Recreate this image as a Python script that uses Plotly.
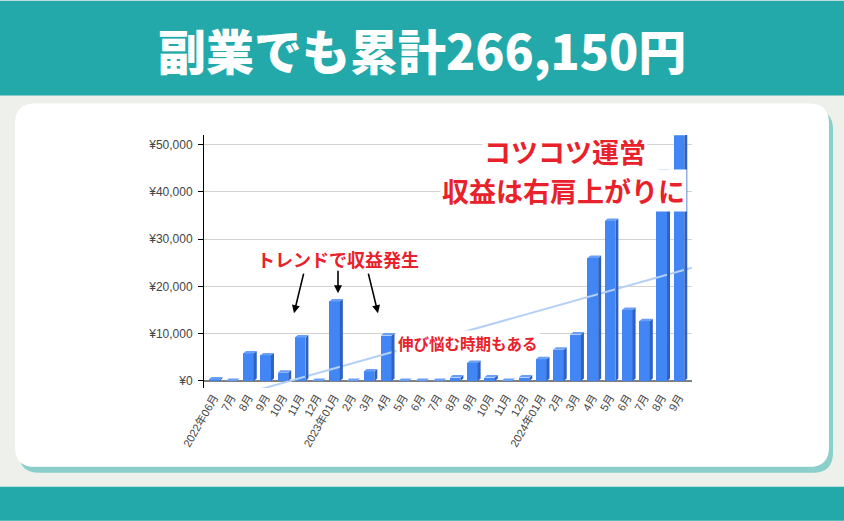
import numpy as np
import plotly.graph_objects as go

# ---- data ----
months = ["2022年06月", "7月", "8月", "9月", "10月", "11月", "12月",
          "2023年01月", "2月", "3月", "4月", "5月", "6月", "7月", "8月", "9月", "10月", "11月", "12月",
          "2024年01月", "2月", "3月", "4月", "5月", "6月", "7月", "8月", "9月"]
revenue = [300, 0, 5800, 5400, 1700, 9200, 0,
           16800, 0, 2000, 9600, 0, 0, 0, 700, 3800, 700, 0, 700,
           4600, 6600, 9800, 26000, 33800, 15000, 12600, 44200, 51800]
y_tickvals = [0, 10000, 20000, 30000, 40000, 50000]
y_ticktext = ["¥0", "¥10,000", "¥20,000", "¥30,000", "¥40,000", "¥50,000"]
title_text = "副業でも累計266,150円"
note_trend = "トレンドで収益発生"
note_slow = "伸び悩む時期もある"
note_up1 = "コツコツ運営"
note_up2 = "収益は右肩上がりに"

# ---- geometry ----
W, H = 844, 521
L, R, T, B = 204, 692, 134.5, 388
PW, PH = R - L, B - T
XR = [-0.58, 27.76]
YR = [-1500, 52000]

def px(x):
    return (x - L) / PW

def py(y):
    return (B - y) / PH

idx = np.arange(len(revenue))
vals = np.array(revenue, dtype=float)

bw = 0.62
dx = 3.0 / (PW / (XR[1] - XR[0]))          # depth in x units (3px)
dy = 2.5 * (YR[1] - YR[0]) / PH            # depth in y units (2.5px)

side_x, side_y, top_x, top_y = [], [], [], []
for i, v in zip(idx, vals):
    xl, xr = i - bw / 2, i + bw / 2
    side_x += [xr, xr + dx, xr + dx, xr, xr, None]
    side_y += [0, dy, v + dy, v, 0, None]
    top_x += [xl, xr, xr + dx, xl + dx, xl, None]
    top_y += [v, v, v + dy, v + dy, v, None]

coef = np.polyfit(idx, vals, 1)
tx = np.array(XR)
ty = np.polyval(coef, tx)

fig = go.Figure()
fig.add_trace(go.Scatter(x=tx, y=ty, mode="lines", line=dict(color="#B5D0F7", width=2),
                         hoverinfo="skip", showlegend=False))
fig.add_trace(go.Scatter(x=side_x, y=side_y, mode="lines", fill="toself", fillcolor="#2D62C2",
                         line=dict(width=0, color="#2D62C2"), hoverinfo="skip", showlegend=False))
fig.add_trace(go.Scatter(x=top_x, y=top_y, mode="lines", fill="toself", fillcolor="#6A9FF7",
                         line=dict(width=0, color="#6A9FF7"), hoverinfo="skip", showlegend=False))
fig.add_trace(go.Bar(x=idx, y=vals, width=bw, marker=dict(color="#4285F4", line=dict(width=0)),
                     showlegend=False))

# ---- background shapes (pixel -> paper) ----
def rrect(x0, y0, x1, y1, r):
    rx, ry = r / PW, r / PH
    a0, a1 = px(x0), px(x1)
    b0, b1 = py(y1), py(y0)  # bottom, top in paper
    return (f"M {a0+rx},{b1} L {a1-rx},{b1} Q {a1},{b1} {a1},{b1-ry} "
            f"L {a1},{b0+ry} Q {a1},{b0} {a1-rx},{b0} L {a0+rx},{b0} "
            f"Q {a0},{b0} {a0},{b0+ry} L {a0},{b1-ry} Q {a0},{b1} {a0+rx},{b1} Z")

teal = "#24A9AA"
shapes = [
    dict(type="rect", xref="paper", yref="paper", x0=px(0), x1=px(W), y0=py(95), y1=py(0),
         fillcolor=teal, line=dict(width=0), layer="below"),
    dict(type="rect", xref="paper", yref="paper", x0=px(0), x1=px(W), y0=py(H), y1=py(487),
         fillcolor=teal, line=dict(width=0), layer="below"),
    dict(type="path", xref="paper", yref="paper", path=rrect(19, 109, 833, 473, 20),
         fillcolor="#8ACFCA", line=dict(width=0), layer="below"),
    dict(type="path", xref="paper", yref="paper", path=rrect(15, 103, 829, 467, 20),
         fillcolor="#FFFFFF", line=dict(width=0), layer="below"),
]

red = "#E8212B"
jp = "Noto Sans CJK JP"
ann = [
    dict(text=title_text, xref="paper", yref="paper", x=px(422), y=py(48), showarrow=False,
         font=dict(family=jp, size=48, color="white", weight=900), xanchor="center", yanchor="middle"),
    dict(text=note_trend, xref="paper", yref="paper", x=px(338), y=py(259), showarrow=False,
         font=dict(family=jp, size=18, color=red, weight=700), xanchor="center", yanchor="middle"),
    dict(text=note_slow, xref="paper", yref="paper", x=px(468), y=py(343), showarrow=False,
         font=dict(family=jp, size=15.5, color=red, weight=700), xanchor="center", yanchor="middle",
         bgcolor="white"),
    dict(text=note_up1, xref="paper", yref="paper", x=px(565), y=py(151), showarrow=False,
         font=dict(family=jp, size=27, color=red, weight=700), xanchor="center", yanchor="middle",
         bgcolor="white"),
    dict(text=note_up2, xref="paper", yref="paper", x=px(563), y=py(190), showarrow=False,
         font=dict(family=jp, size=27, color=red, weight=700), xanchor="center", yanchor="middle",
         bgcolor="white"),
]
for (hx, hy, ax, ay) in [(294, 313, 10, -41), (338, 293, 0, -24), (378, 313, -10, -41)]:
    ann.append(dict(text="", xref="paper", yref="paper", x=px(hx), y=py(hy), ax=ax, ay=ay,
                    showarrow=True, arrowhead=2, arrowsize=1, arrowwidth=1.6, arrowcolor="black"))

tickfont = dict(family="Liberation Sans, Noto Sans CJK JP", size=12, color="#444444")
fig.update_layout(
    width=W, height=H,
    margin=dict(l=L, r=W - R, t=T, b=H - B, pad=0),
    paper_bgcolor="#EEF1EB", plot_bgcolor="rgba(0,0,0,0)",
    shapes=shapes, annotations=ann, bargap=0, showlegend=False,
    xaxis=dict(range=XR, tickmode="array", tickvals=idx.tolist(), ticktext=months,
               tickangle=-60, tickfont=dict(family="Liberation Sans, Noto Sans CJK JP", size=11,
                                            color="#444444"),
               showgrid=False, zeroline=False, showline=False, ticks=""),
    yaxis=dict(range=YR, tickmode="array", tickvals=y_tickvals, ticktext=y_ticktext,
               tickfont=tickfont, showgrid=True, gridcolor="#D3D3D3", gridwidth=1,
               zeroline=True, zerolinecolor="#808080", zerolinewidth=2,
               showline=True, linecolor="black", linewidth=1,
               ticks="outside", ticklen=5, tickcolor="black", ticklabelstandoff=3),
)

fig.write_html("out.html", config={"displayModeBar": False},
               post_script="document.body.style.margin='0';document.body.style.padding='0';")
